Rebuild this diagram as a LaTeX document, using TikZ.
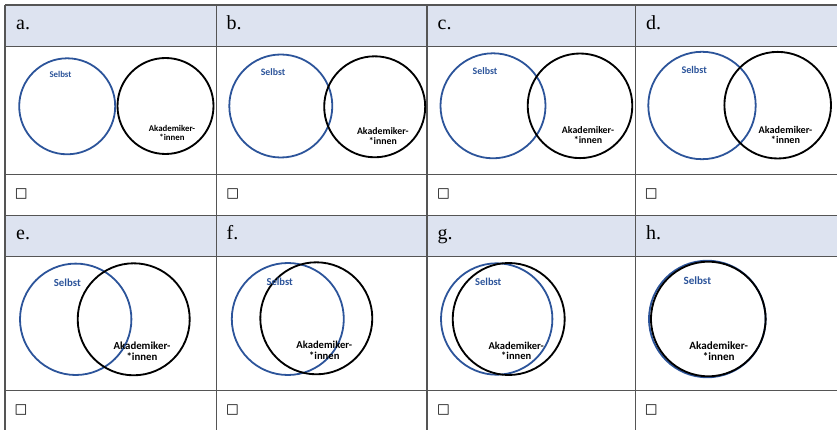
\documentclass[tikz,border=0pt]{standalone}
\usepackage{fontspec}
\newfontfamily\tms{Liberation Serif}
\newfontfamily\carl{Carlito}
\newfontfamily\dvs{DejaVu Sans}
\definecolor{selbstblue}{RGB}{44,84,154}
\definecolor{hdrfill}{RGB}{221,227,240}
\definecolor{gridgray}{RGB}{85,85,85}
\tikzset{
  gridline/.style={draw=gridgray, line width=1.1pt},
  hdrlabel/.style={anchor=base west, inner sep=0pt, font=\tms\fontsize{20}{22}\selectfont},
  chk/.style={inner sep=0pt, font=\dvs\fontsize{13.5}{13.5}\selectfont},
  bluecirc/.style={circle, draw=selbstblue, line width=1.8pt, inner sep=0pt, minimum size=#1},
  blackcirc/.style={circle, draw=black, line width=1.85pt, inner sep=0pt, minimum size=#1},
  selbstlbl/.style={inner sep=0pt, text=selbstblue, font=\carl\bfseries\fontsize{#1}{#1}\selectfont},
  akadlbl/.style={inner sep=0pt, align=center, text=black, font=\carl\bfseries\fontsize{#1}{#1}\selectfont}
}
\begin{document}
\begin{tikzpicture}[x=1pt,y=-1pt]
\useasboundingbox (0,0) rectangle (837,430);
% header fills
\fill[hdrfill] (5,5) rectangle (837,46.5);
\fill[hdrfill] (5,215.5) rectangle (837,256.5);
% grid
\foreach \yy in {5,46.5,174.5,215.5,256.5,390.5}
  \draw[gridline] (5,\yy) -- (837,\yy);
\foreach \xx in {5,216.5,427,635.5}
  \draw[gridline] (\xx,5) -- (\xx,430);
% header labels
\node[hdrlabel] (ha) at (16,29.5) {a.};
\node[hdrlabel] (hb) at (226.5,29.5) {b.};
\node[hdrlabel] (hc) at (437.5,29.5) {c.};
\node[hdrlabel] (hd) at (646,29.5) {d.};
\node[hdrlabel] (he) at (16,239.5) {e.};
\node[hdrlabel] (hf) at (226.5,239.5) {f.};
\node[hdrlabel] (hg) at (437.5,239.5) {g.};
\node[hdrlabel] (hh) at (646,239.5) {h.};
% checkboxes
\node[chk] (ka) at (21.3,193.7) {□};
\node[chk] (kb) at (232.8,194) {□};
\node[chk] (kc) at (443.5,194) {□};
\node[chk] (kd) at (651.3,194) {□};
\node[chk] (ke) at (21,409.5) {□};
\node[chk] (kf) at (232.5,409.5) {□};
\node[chk] (kg) at (443.5,409.5) {□};
\node[chk] (kh) at (651.3,409.5) {□};
% a
\node[bluecirc=96pt] (sa) at (67.2,106.3) {};
\node[blackcirc=96pt] (ca) at (165.5,106) {};
\node[selbstlbl=8.8] (ta) at (60.5,74) {Selbst};
\node[akadlbl=8.8] (aa) at (172,133) {Akademiker-\\*innen};
% b
\node[bluecirc=103pt] (sb) at (280.8,106) {};
\node[blackcirc=101pt] (cb) at (374.7,106.8) {};
\node[selbstlbl=9.8] (tb) at (273,72) {Selbst};
\node[akadlbl=9.8] (ab) at (382.8,136) {Akademiker-\\*innen};
% c
\node[bluecirc=105pt] (sc) at (493,105.8) {};
\node[blackcirc=104.6pt] (cc) at (580,105.8) {};
\node[selbstlbl=9.9] (tc) at (485,70.7) {Selbst};
\node[akadlbl=9.9] (ac) at (588,135.3) {Akademiker-\\*innen};
% d
\node[bluecirc=107.4pt] (sd) at (702,105.5) {};
\node[blackcirc=106.6pt] (cd) at (777.7,105.2) {};
\node[selbstlbl=10.2] (td) at (694.2,70) {Selbst};
\node[akadlbl=10.2] (ad) at (785.5,135.3) {Akademiker-\\*innen};
% e
\node[bluecirc=111.4pt] (se) at (75.7,319.3) {};
\node[blackcirc=112pt] (ce) at (133.7,319.3) {};
\node[selbstlbl=10.8] (te) at (67.3,282.7) {Selbst};
\node[akadlbl=10.8] (ae) at (142,351.3) {Akademiker-\\*innen};
% f
\node[bluecirc=112pt] (sf) at (287.8,319) {};
\node[blackcirc=112pt] (cf) at (316.3,318.3) {};
\node[selbstlbl=10.6] (tf) at (279.7,281.7) {Selbst};
\node[akadlbl=10.6] (af) at (324.3,350.3) {Akademiker-\\*innen};
% g
\node[bluecirc=111.4pt] (sg) at (496.7,319) {};
\node[blackcirc=112pt] (cg) at (508.7,319) {};
\node[selbstlbl=10.5] (tg) at (488.3,282.3) {Selbst};
\node[akadlbl=10.5] (ag) at (516.2,351) {Akademiker-\\*innen};
% h
\node[bluecirc=116.6pt] (sh) at (707.3,319) {};
\node[blackcirc=114.6pt] (ch) at (708.3,319) {};
\node[selbstlbl=11.1] (th) at (697.3,281) {Selbst};
\node[akadlbl=11.1] (ah) at (718.7,350.8) {Akademiker-\\*innen};
\end{tikzpicture}
\end{document}
